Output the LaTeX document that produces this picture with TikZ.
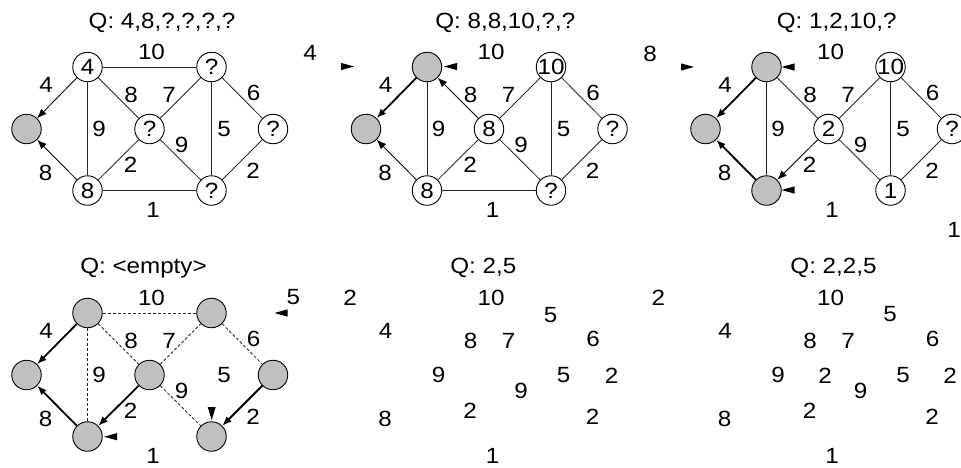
\documentclass[tikz,border=0pt]{standalone}
\usepackage{fontspec}
\setmainfont{Liberation Sans}[FakeStretch=1.1]
\usetikzlibrary{arrows.meta}
\definecolor{vgray}{RGB}{192,192,192}

% edge weights, placed in the local frame of one panel
\newcommand\weightlabels{%
  \node[wt] (w10) at (151.5,52) {10};
  \node[wt] (w4) at (46,84.5) {4};
  \node[wt] (w8a) at (131,95) {8};
  \node[wt] (w7) at (169,95) {7};
  \node[wt] (w6) at (253.5,92.5) {6};
  \node[wt] (w9a) at (99,128.5) {9};
  \node[wt] (w5) at (224,128.5) {5};
  \node[wt] (w9b) at (181.5,144.5) {9};
  \node[wt] (w2a) at (130.5,165) {2};
  \node[wt] (w8b) at (45.5,172.5) {8};
  \node[wt] (w2b) at (253,170.5) {2};
  \node[wt] (w1) at (153,210) {1};
}

\begin{document}
\begin{tikzpicture}[x=1pt,y=-1pt,
  font=\fontsize{22}{26}\selectfont,
  vtx/.style={circle,draw=black,line width=0.9pt,minimum size=29.5pt,inner sep=0pt,
              text height=15.75pt,text depth=0pt},
  vdone/.style={vtx,fill=vgray},
  vfree/.style={vtx,fill=white},
  wt/.style={inner sep=0pt,text height=15.75pt,text depth=0pt},
  link/.style={draw=black!85,line width=0.85pt},
  usedlink/.style={draw=black!85,line width=0.85pt,dash pattern=on 3pt off 2pt},
  cand/.style={draw=black,line width=0.85pt,-{Latex[length=9.5pt,width=7.5pt]}},
  treeedge/.style={draw=black,line width=1.8pt,-{Latex[length=9.5pt,width=7.5pt]}},
  pics/tipleft/.style={code={\fill (0,0) -- (13,-3.6) -- (13,3.6) -- cycle;}},
  pics/tipright/.style={code={\fill (0,0) -- (-13,-3.6) -- (-13,3.6) -- cycle;}},
  pics/tipdown/.style={code={\fill (0,0) -- (-4,-13) -- (4,-13) -- cycle;}},
]
\useasboundingbox (0,0) rectangle (961,467);

% ---------- panel 1 ----------
\begin{scope}[name prefix=a-]
  \node[wt] (q) at (162,20.3) {Q: 4,8,?,?,?,?};
  \node[vdone] (L) at (26.5,129) {};
  \node[vfree] (TL) at (87.5,67) {4};
  \node[vfree] (TR) at (211.5,67) {?};
  \node[vfree] (M) at (149.5,129) {?};
  \node[vfree] (R) at (273,129) {?};
  \node[vfree] (BL) at (87.5,190.5) {8};
  \node[vfree] (BR) at (211.5,190.5) {?};
  \draw[cand] (TL) -- (L);
  \draw[cand] (BL) -- (L);
  \draw[link] (TL) -- (TR);
  \draw[link] (TL) -- (BL);
  \draw[link] (TL) -- (M);
  \draw[link] (M) -- (TR);
  \draw[link] (TR) -- (R);
  \draw[link] (TR) -- (BR);
  \draw[link] (M) -- (BR);
  \draw[link] (BL) -- (M);
  \draw[link] (BL) -- (BR);
  \draw[link] (R) -- (BR);
  \weightlabels
  \node[wt] (x) at (310,52.5) {4};
\end{scope}

% ---------- panel 2 ----------
\begin{scope}[shift={(339.5,0)},name prefix=b-]
  \node[wt] (q) at (165.8,20.5) {Q: 8,8,10,?,?};
  \node[vdone] (L) at (26.5,129) {};
  \node[vdone] (TL) at (87.5,67) {};
  \node[vfree] (TR) at (211.5,67) {\makebox[0pt]{10}};
  \node[vfree] (M) at (149.5,129) {8};
  \node[vfree] (R) at (273,129) {?};
  \node[vfree] (BL) at (87.5,190.5) {8};
  \node[vfree] (BR) at (211.5,190.5) {?};
  \draw[treeedge] (TL) -- (L);
  \draw[cand] (BL) -- (L);
  \draw[cand] (M) -- (TL);
  \draw[link] (TL) -- (BL);
  \draw[link] (M) -- (TR);
  \draw[link] (TR) -- (R);
  \draw[link] (TR) -- (BR);
  \draw[link] (M) -- (BR);
  \draw[link] (BL) -- (M);
  \draw[link] (BL) -- (BR);
  \draw[link] (R) -- (BR);
  \weightlabels
  \node[wt] (x) at (310.5,53.5) {8};
\end{scope}
\pic at (354,66.5) {tipright};
\pic at (444,66.5) {tipleft};

% ---------- panel 3 ----------
\begin{scope}[shift={(679,0)},name prefix=c-]
  \node[wt] (q) at (157.7,20.5) {Q: 1,2,10,?};
  \node[vdone] (L) at (26.5,129) {};
  \node[vdone] (TL) at (87.5,67) {};
  \node[vfree] (TR) at (211.5,67) {\makebox[0pt]{10}};
  \node[vfree] (M) at (149.5,129) {2};
  \node[vfree] (R) at (273,129) {?};
  \node[vdone] (BL) at (87.5,190.5) {};
  \node[vfree] (BR) at (211.5,190.5) {1};
  \draw[treeedge] (TL) -- (L);
  \draw[treeedge] (BL) -- (L);
  \draw[cand] (M) -- (BL);
  \draw[link] (TL) -- (BL);
  \draw[link] (TL) -- (M);
  \draw[link] (M) -- (TR);
  \draw[link] (TR) -- (R);
  \draw[link] (TR) -- (BR);
  \draw[link] (M) -- (BR);
  \draw[link] (R) -- (BR);
  \weightlabels
  \node[wt] (x) at (275,230) {1};
\end{scope}
\pic at (694,67) {tipright};
\pic at (781.5,67) {tipleft};
\pic at (781.5,190) {tipleft};

% ---------- panel 4 ----------
\begin{scope}[shift={(0,246)},name prefix=d-]
  \node[wt] (q) at (143.5,20) {Q: <empty>};
  \node[vdone] (L) at (26.5,129) {};
  \node[vdone] (TL) at (87.5,67) {};
  \node[vdone] (TR) at (211.5,67) {};
  \node[vdone] (M) at (149.5,129) {};
  \node[vdone] (R) at (273,129) {};
  \node[vdone] (BL) at (87.5,190.5) {};
  \node[vdone] (BR) at (211.5,190.5) {};
  \draw[treeedge] (TL) -- (L);
  \draw[treeedge] (BL) -- (L);
  \draw[treeedge] (M) -- (BL);
  \draw[treeedge] (R) -- (BR);
  \draw[usedlink] (TL) -- (TR);
  \draw[usedlink] (TL) -- (BL);
  \draw[usedlink] (TL) -- (M);
  \draw[usedlink] (M) -- (TR);
  \draw[usedlink] (TR) -- (R);
  \draw[usedlink] (M) -- (BR);
  \weightlabels
  \node[wt] (x) at (293.3,50.5) {5};
\end{scope}
\pic at (274.5,313) {tipleft};
\pic at (104,436.7) {tipleft};
\pic at (211.7,420) {tipdown};

% ---------- panel 5 ----------
\begin{scope}[shift={(339.5,246)},name prefix=e-]
  \node[wt] (q) at (143.8,20) {Q: 2,5};
  \weightlabels
  \node[wt] (vTR) at (211,68.7) {5};
  \node[wt] (vR) at (272.2,129.8) {2};
\end{scope}
\node[wt] (e-x) at (350,297.5) {2};

% ---------- panel 6 ----------
\begin{scope}[shift={(679,246)},name prefix=f-]
  \node[wt] (q) at (154.5,20) {Q: 2,2,5};
  \weightlabels
  \node[wt] (vTR) at (211,67.3) {5};
  \node[wt] (vM) at (146,129.8) {2};
  \node[wt] (vR) at (271,129.8) {2};
\end{scope}
\node[wt] (f-x) at (658.3,297.5) {2};

\end{tikzpicture}
\end{document}
